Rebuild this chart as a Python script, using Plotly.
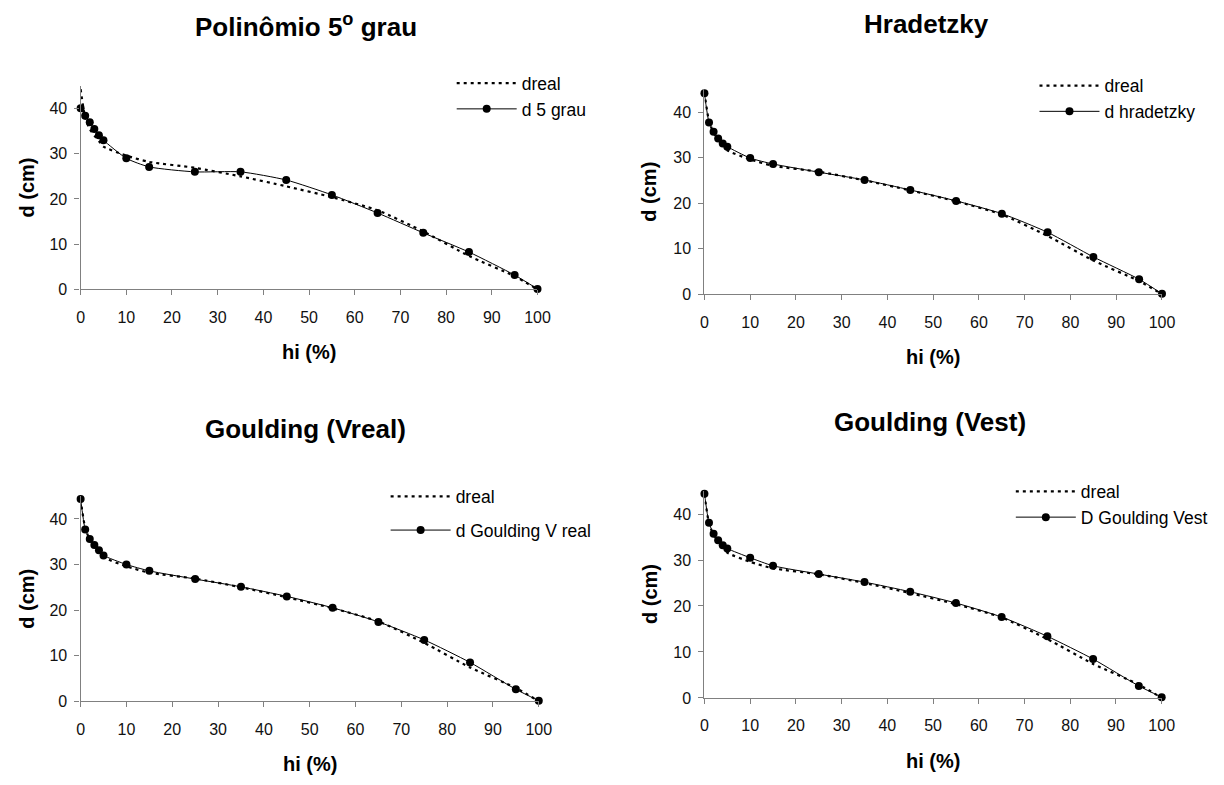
import plotly.graph_objects as go

# ---------------- data ----------------
hi = [0, 1, 2, 3, 4, 5, 10, 15, 25, 35, 45, 55, 65, 75, 85, 95, 100]
dreal = [44.3, 38.0, 35.5, 34.0, 32.8, 31.6, 29.6, 28.2, 26.9, 25.0, 22.8, 20.4, 17.5, 12.8, 7.4, 2.9, 0.0]
d_5grau = [40.1, 38.4, 37.0, 35.5, 34.1, 33.0, 29.0, 27.1, 26.0, 26.0, 24.2, 20.9, 16.9, 12.5, 8.25, 3.15, 0.1]
d_hradetzky = [44.1, 37.7, 35.7, 34.2, 33.1, 32.4, 29.9, 28.6, 26.8, 25.1, 22.9, 20.5, 17.7, 13.6, 8.2, 3.3, 0.1]
d_goulding_vreal = [44.4, 37.7, 35.6, 34.3, 33.1, 32.0, 30.0, 28.6, 26.8, 25.1, 23.0, 20.5, 17.4, 13.45, 8.5, 2.6, 0.1]
d_goulding_vest = [44.4, 38.1, 35.7, 34.3, 33.2, 32.5, 30.5, 28.75, 26.95, 25.2, 23.1, 20.65, 17.6, 13.4, 8.45, 2.6, 0.15]

titles = ["Polinômio 5<sup>o</sup> grau", "Hradetzky", "Goulding (Vreal)", "Goulding (Vest)"]
model_names = ["d 5 grau", "d hradetzky", "d Goulding V real", "D Goulding Vest"]
models = [d_5grau, d_hradetzky, d_goulding_vreal, d_goulding_vest]
x_ticks = list(range(0, 101, 10))
y_ticks = [0, 10, 20, 30, 40]

W, H = 1224, 785
FONT = "Liberation Sans, Arial, sans-serif"
AXIS_COLOR = "#808080"

def fx(px):
    return px / W

def fy(py):
    return 1 - py / H

# plot areas in pixels: (x_left, x_right, y_of_zero, y_of_45)
areas = [
    (77.7, 541.0, 292.7, 87.0),
    (710.3, 1174.3, 297.7, 90.3),
    (77.7, 542.3, 709.3, 501.9),
    (710.3, 1174.0, 706.0, 496.8),
]
# title centres / baselines
title_pos = [(306, 35), (936, 33), (306, 443), (939, 436)]
ytitle_pos = [(23, 190), (654, 194), (23, 606), (655, 601)]
xtitle_pos = [(309, 356), (942, 361), (310, 773), (942, 770)]
legend_pos = [(454, 66), (1045, 68.5), (387, 484), (1021, 479)]

fig = go.Figure()
layout = dict(
    width=W, height=H, margin=dict(l=0, r=0, t=0, b=0),
    paper_bgcolor="white", plot_bgcolor="white",
    font=dict(family=FONT, color="black", size=16),
    annotations=[],
)

for i in range(4):
    n = "" if i == 0 else str(i + 1)
    leg = "legend" + n
    xa, ya = "x" + n, "y" + n
    fig.add_trace(go.Scatter(
        x=hi, y=dreal, name="dreal", mode="lines",
        line=dict(color="black", width=2.2, dash="3px,4px", shape="spline", smoothing=0.6),
        xaxis=xa, yaxis=ya, legend=leg, legendgroup="a" + n, cliponaxis=False,
    ))
    fig.add_trace(go.Scatter(
        x=hi, y=models[i], name=model_names[i], mode="lines+markers",
        line=dict(color="black", width=1, shape="spline", smoothing=0.6),
        marker=dict(color="black", size=8, symbol="circle"),
        xaxis=xa, yaxis=ya, legend=leg, legendgroup="b" + n, cliponaxis=False,
    ))
    x0, x1, yz, y45 = areas[i]
    axis_common = dict(
        showgrid=False, zeroline=False, showline=True, linecolor=AXIS_COLOR, linewidth=1.3,
        ticks="outside", ticklen=5, tickcolor=AXIS_COLOR, tickwidth=1.3,
        tickfont=dict(family=FONT, size=16, color="#111111"),
    )
    layout["xaxis" + n] = dict(
        domain=[fx(x0), fx(x1)], anchor=ya, range=[0, 100], tickvals=x_ticks,
        ticklabelstandoff=8, **axis_common)
    layout["yaxis" + n] = dict(
        domain=[fy(yz), fy(y45)], anchor=xa, range=[0, 45], tickvals=y_ticks,
        ticklabelstandoff=4, **axis_common)
    lx, ly = legend_pos[i]
    layout[leg] = dict(
        x=fx(lx), y=fy(ly), xanchor="left", yanchor="top", xref="paper", yref="paper",
        bgcolor="rgba(0,0,0,0)", borderwidth=0, itemwidth=60,
        tracegroupgap=(8 if i == 2 else 0),
        font=dict(family=FONT, size=17.5, color="black"),
    )
    tx, tb = title_pos[i]
    layout["annotations"].append(dict(
        text="<b>" + titles[i] + "</b>", x=fx(tx), y=fy(tb - 9), xref="paper", yref="paper",
        xanchor="center", yanchor="middle", showarrow=False,
        font=dict(family=FONT, size=26, color="black")))
    ax_, ay_ = ytitle_pos[i]
    layout["annotations"].append(dict(
        text="<b>d (cm)</b>", x=fx(ax_), y=fy(ay_), xref="paper", yref="paper",
        xanchor="center", yanchor="middle", showarrow=False, textangle=-90,
        font=dict(family=FONT, size=20, color="black")))
    bx, by = xtitle_pos[i]
    layout["annotations"].append(dict(
        text="<b>hi (%)</b>", x=fx(bx), y=fy(by), xref="paper", yref="paper",
        xanchor="center", yanchor="middle", showarrow=False,
        font=dict(family=FONT, size=20, color="black")))

fig.update_layout(**layout)
fig.write_html("out.html")
